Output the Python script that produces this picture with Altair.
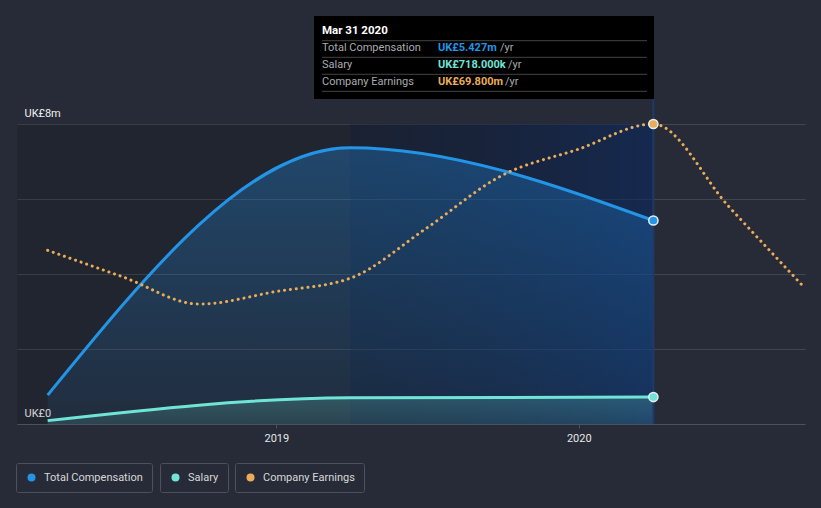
import altair as alt
import pandas as pd

# ---------------- data ----------------
comp_dates = ["2018-03-31", "2019-03-31", "2020-03-31"]
comp_values = [0.77, 7.37, 5.427]          # UK£m
salary_values = [0.09, 0.70, 0.718]        # UK£m
earn_dates = ["2018-03-31", "2018-06-30", "2018-09-30", "2018-12-31",
              "2019-03-31", "2019-06-30", "2019-09-30", "2019-12-31",
              "2020-03-31", "2020-06-30", "2020-09-30"]
earn_values = [40.4, 34.2, 27.9, 30.8, 33.9, 45.4, 57.8, 63.9, 69.8, 50.6, 31.6]  # UK£m

series_names = ["Total Compensation", "Salary", "Company Earnings"]
series_colors = ["#2394e6", "#6fe4d7", "#e9ad5a"]
x_tick_dates = ["2019-01-01", "2020-01-01"]
y_tick_values = [0, 2, 4, 6, 8]
tooltip_date = "2020-03-31"
tooltip_title = "Mar 31 2020"
tooltip_values = ["UK£5.427m", "UK£718.000k", "UK£69.800m"]
x_domain = ["2018-02-22", "2020-09-30"]
shade_dates = ["2018-02-22", "2019-03-31", "2020-03-31"]


def ms(s):
    return int(pd.Timestamp(s).value // 10**6)


FONT = "Roboto"
W, H = 788, 300

xscale = alt.Scale(type="utc", domain=[ms(d) for d in x_domain])
xaxis = alt.Axis(values=[ms(d) for d in x_tick_dates], format="%Y", formatType="utc",
                 grid=False, domainColor="#4b515e", tickColor="#4b515e", tickSize=4,
                 labelColor="#e6e6e6", labelFontSize=11, labelPadding=4, labelFlush=False,
                 title=None)


def X(field):
    return alt.X(field, type="temporal", scale=xscale, axis=xaxis)


yc = alt.Scale(domain=[0, 8])
ye = alt.Scale(domain=[0, max(earn_values)])

yaxis = alt.Axis(values=y_tick_values, grid=True, gridColor="#41464f", gridWidth=1,
                 domain=False, ticks=False, tickSize=0,
                 labelExpr="datum.value == 0 ? 'UK£0' : (datum.value == 8 ? 'UK£8m' : '')",
                 labelAlign="left", labelBaseline="alphabetic", labelPadding=-7,
                 labelOffset=-8, labelColor="#f0f0f0", labelFontSize=11, title=None)

comp_df = pd.DataFrame({"date": comp_dates, "comp": comp_values, "salary": salary_values})
earn_df = pd.DataFrame({"date": earn_dates, "earn": earn_values})
shade_df = pd.DataFrame({"start": shade_dates[:-1], "end": shade_dates[1:], "k": ["past", "hl"]})

# shaded regions
past_rect = alt.Chart(shade_df).transform_filter("datum.k == 'past'").mark_rect(
    fill="rgba(0,0,0,0.12)"
).encode(x=X("start"), x2="end", y=alt.value(0), y2=alt.value(H))

hl_rect = alt.Chart(shade_df).transform_filter("datum.k == 'hl'").mark_rect(
    fill=alt.Gradient(gradient="linear",
                      stops=[alt.GradientStop(color="rgba(5,15,40,0.35)", offset=0),
                             alt.GradientStop(color="rgba(10,40,95,0.6)", offset=1)],
                      x1=0, x2=1, y1=0, y2=0)
).encode(x=X("start"), x2="end", y=alt.value(0), y2=alt.value(H))

comp_area = alt.Chart(comp_df).mark_area(
    interpolate="monotone",
    fill=alt.Gradient(gradient="linear",
                      stops=[alt.GradientStop(color="rgba(33,150,243,0.30)", offset=0),
                             alt.GradientStop(color="rgba(33,150,243,0.07)", offset=1)],
                      x1=0, x2=0, y1=0, y2=1)
).encode(x=X("date"), y=alt.Y("comp:Q", scale=yc, axis=None))

sal_area = alt.Chart(comp_df).mark_area(
    interpolate="monotone",
    fill=alt.Gradient(gradient="linear",
                      stops=[alt.GradientStop(color="rgba(110,228,215,0.22)", offset=0),
                             alt.GradientStop(color="rgba(110,228,215,0.12)", offset=1)],
                      x1=0, x2=0, y1=0, y2=1)
).encode(x=X("date"), y=alt.Y("salary:Q", scale=yc, axis=None))

comp_line = alt.Chart(comp_df).mark_line(
    interpolate="monotone", color=series_colors[0], strokeWidth=3
).encode(x=X("date"), y=alt.Y("comp:Q", scale=yc, axis=yaxis))

sal_line = alt.Chart(comp_df).mark_line(
    interpolate="monotone", color=series_colors[1], strokeWidth=3
).encode(x=X("date"), y=alt.Y("salary:Q", scale=yc, axis=None))

earn_line = alt.Chart(earn_df).mark_line(
    interpolate="monotone", color=series_colors[2], strokeWidth=3,
    strokeDash=[0.1, 5.8], strokeCap="round"
).encode(x=X("date"), y=alt.Y("earn:Q", scale=ye, axis=None))

connector = alt.Chart(pd.DataFrame({"date": [tooltip_date]})).mark_rule(
    color="#1e3b68", strokeWidth=2
).encode(x=X("date"), y=alt.value(-25), y2=alt.value(H))

legend_x = [-1, 143, 218]


def legend(i):
    return alt.Legend(orient="none", legendX=legend_x[i], legendY=339, title=None,
                      symbolType="circle", symbolSize=64, symbolStrokeWidth=0,
                      symbolOffset=1, labelOffset=7, padding=9, cornerRadius=2,
                      strokeColor="#4b515e", labelColor="#d8d8d8", labelFontSize=11,
                      labelFont=FONT)


def point_layer(i, dates, values, scale):
    k = dates.index(tooltip_date)
    df = pd.DataFrame({"date": [dates[k]], "v": [values[k]], "series": [series_names[i]]})
    return alt.Chart(df).mark_point(
        filled=True, size=85, stroke="#e8eef5", strokeWidth=1.5, opacity=1
    ).encode(
        x=X("date"), y=alt.Y("v:Q", scale=scale, axis=None),
        color=alt.Color("series:N",
                        scale=alt.Scale(domain=[series_names[i]], range=[series_colors[i]]),
                        legend=legend(i))
    )


pts = [point_layer(0, comp_dates, comp_values, yc),
       point_layer(1, comp_dates, salary_values, yc),
       point_layer(2, earn_dates, earn_values, ye)]

# tooltip box
tip_box = alt.Chart(pd.DataFrame({"a": [0]})).mark_rect(color="#000000").encode(
    x=alt.value(297), x2=alt.value(637), y=alt.value(-108), y2=alt.value(-25))
sep = alt.Chart(pd.DataFrame({"y": [-83.3, -66.7, -49.7, -32.7]})).mark_rule(
    color="#444444", strokeWidth=1
).encode(x=alt.value(305), x2=alt.value(630), y=alt.Y("y:Q", scale=None))

tip_layers = [tip_box, sep,
              alt.Chart(pd.DataFrame({"t": [tooltip_title]})).mark_text(
                  align="left", baseline="middle", font=FONT, fontSize=11.5,
                  fontWeight="bold", color="#ffffff"
              ).encode(x=alt.value(305), y=alt.value(-93), text="t:N")]
row_y = [-76, -59, -42]
yr_x = [483, 491, 488]
for i in range(3):
    tip_layers.append(alt.Chart(pd.DataFrame({"t": [series_names[i]]})).mark_text(
        align="left", baseline="middle", font=FONT, fontSize=11, color="#a9abae"
    ).encode(x=alt.value(305), y=alt.value(row_y[i]), text="t:N"))
    tip_layers.append(alt.Chart(pd.DataFrame({"t": [tooltip_values[i]]})).mark_text(
        align="left", baseline="middle", font=FONT, fontSize=11, fontWeight="bold",
        color=series_colors[i]
    ).encode(x=alt.value(421), y=alt.value(row_y[i]), text="t:N"))
    tip_layers.append(alt.Chart(pd.DataFrame({"t": ["/yr"]})).mark_text(
        align="left", baseline="middle", font=FONT, fontSize=11, color="#a9abae"
    ).encode(x=alt.value(yr_x[i]), y=alt.value(row_y[i]), text="t:N"))

chart = alt.layer(
    past_rect, hl_rect, comp_area, sal_area, comp_line, sal_line, earn_line,
    connector, *pts, *tip_layers
).resolve_scale(
    y="independent", color="independent"
).properties(
    width=W, height=H,
    padding={"left": 17, "top": 124, "right": 16, "bottom": 84},
    autosize=alt.AutoSizeParams(type="none"),
).configure(
    background="#262b37", font=FONT
).configure_view(stroke=None)

chart.save("out.html", embed_options={"renderer": "svg", "actions": False})
